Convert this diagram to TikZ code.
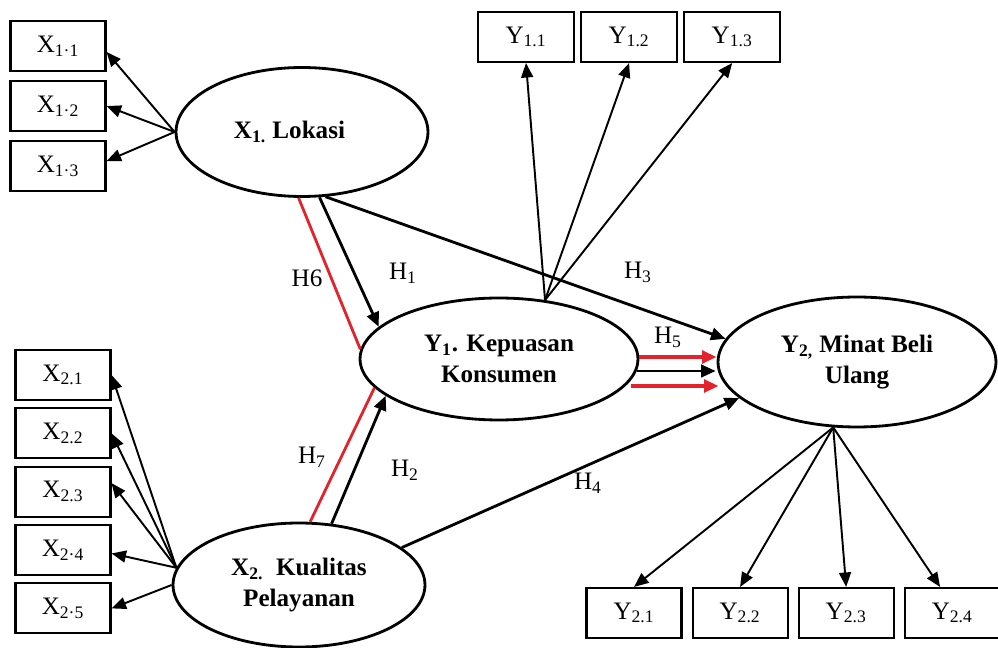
\documentclass[tikz,border=0pt]{standalone}
\usepackage{fontspec}
\setmainfont{Liberation Serif}
\usepackage{tikz}
\usetikzlibrary{positioning, arrows.meta, calc, shapes.geometric}
\definecolor{hred}{HTML}{E3232C}

\begin{document}
\begin{tikzpicture}[x=0.02cm, y=-0.02cm,
        every node/.style={font=\fontsize{14.3}{17.5}\selectfont},
        ind/.style={rectangle, draw, line width=1.2pt, minimum width=1.9cm,
          minimum height=1cm, inner sep=0pt},
        lat/.style={ellipse, draw, line width=1.6pt, align=center,
          inner sep=0pt, font=\fontsize{14.3}{17.5}\selectfont\bfseries},
        load/.style={-{Triangle[length=2.9mm, width=2.4mm]}, line width=1.1pt},
        arr/.style={-{Triangle[length=2.9mm, width=2.5mm]}, line width=1.6pt},
        med/.style={line width=1.6pt, color=hred}]

      \useasboundingbox (0,0) rectangle (998,648);

      \node[lat, minimum width=5.04cm, minimum height=2.58cm] (X1) at (302,132)
        {X\textsubscript{1.} Lokasi\hspace*{0.5cm}};
      \node[lat, minimum width=5.04cm, minimum height=2.48cm] (X2) at (299,585)
        {X\textsubscript{2.}\ \ Kualitas\\Pelayanan};
      \node[lat, minimum width=5.56cm, minimum height=2.44cm] (Y1) at (499,359)
        {Y\textsubscript{1}. Kepuasan\\Konsumen};
      \node[lat, minimum width=5.56cm, minimum height=2.6cm] (Y2) at (857,362)
        {Y\textsubscript{2,} Minat Beli\\Ulang};

      \node[ind] (X11) at (58,46) {X\textsubscript{1·1}};
      \node[ind, below=0.16cm of X11] (X12) {X\textsubscript{1·2}};
      \node[ind, below=0.16cm of X12] (X13) {X\textsubscript{1·3}};

      \node[ind] (X21) at (63,375) {X\textsubscript{2.1}};
      \node[ind, below=0.125cm of X21] (X22) {X\textsubscript{2.2}};
      \node[ind, below=0.125cm of X22] (X23) {X\textsubscript{2.3}};
      \node[ind, below=0.125cm of X23] (X24) {X\textsubscript{2·4}};
      \node[ind, below=0.125cm of X24] (X25) {X\textsubscript{2·5}};

      \node[ind, minimum width=1.92cm] (Y11) at (526,37) {Y\textsubscript{1.1}};
      \node[ind, minimum width=1.92cm, right=0.1cm of Y11] (Y12) {Y\textsubscript{1.2}};
      \node[ind, minimum width=1.92cm, right=0.1cm of Y12] (Y13) {Y\textsubscript{1.3}};

      \node[ind] (Y21) at (634,613) {Y\textsubscript{2.1}};
      \node[ind, right=0.18cm of Y21] (Y22) {Y\textsubscript{2.2}};
      \node[ind, right=0.18cm of Y22] (Y23) {Y\textsubscript{2.3}};
      \node[ind, right=0.18cm of Y23] (Y24) {Y\textsubscript{2.4}};

      \draw[load] (X1.west) -- (X11.-7);
      \draw[load] (X1.west) -- (X12.east);
      \draw[load] (X1.west) -- (X13.6);

      \draw[load] (X2.172) -- (X21.east);
      \draw[load] (X2.172) -- (X22.east);
      \draw[load] (X2.172) -- (X23.10);
      \draw[load] (X2.172) -- (X24.-4);
      \draw[load] (X2.west) -- (X25.east);

      \foreach \b in {Y11, Y12, Y13}
        \draw[load] (Y1.52) -- (\b.south);

      \foreach \b in {Y21, Y22, Y23}
        \draw[load] (Y2.-110) -- (\b.north);
      \draw[load] (Y2.-110) -- (Y24.115);

      \draw[med] (X1.-93) -- (Y1.176);
      \draw[arr] (X1.-75) -- (Y1.165);
      \draw[arr] (X1.-70) -- (Y2.170);
      \draw[med] (X2.80) -- (Y1.-167);
      \draw[arr] (X2.62) -- (Y1.-162);
      \draw[arr] (X2.20) -- (Y2.-163);

      \draw[arr, color=hred, line width=2pt] ($(Y1.east)+(0,-2)$) -- ($(Y2.west)+(0,-5)$);
      \draw[arr] ($(Y1.east)+(-2,12)$) -- ($(Y2.west)+(-1,9)$);
      \draw[arr, color=hred, line width=2pt] ($(Y1.east)+(-8,27)$) -- ($(Y2.west)+(2,24)$);

      \node (H6) at (307,278) {H6};
      \node (H1) at (403,273) {H\textsubscript{1}};
      \node (H3) at (638,272) {H\textsubscript{3}};
      \node (H5) at (668,337) {H\textsubscript{5}};
      \node (H2) at (405,470) {H\textsubscript{2}};
      \node (H7) at (312,457) {H\textsubscript{7}};
      \node (H4) at (588,483) {H\textsubscript{4}};
    \end{tikzpicture}
\end{document}
